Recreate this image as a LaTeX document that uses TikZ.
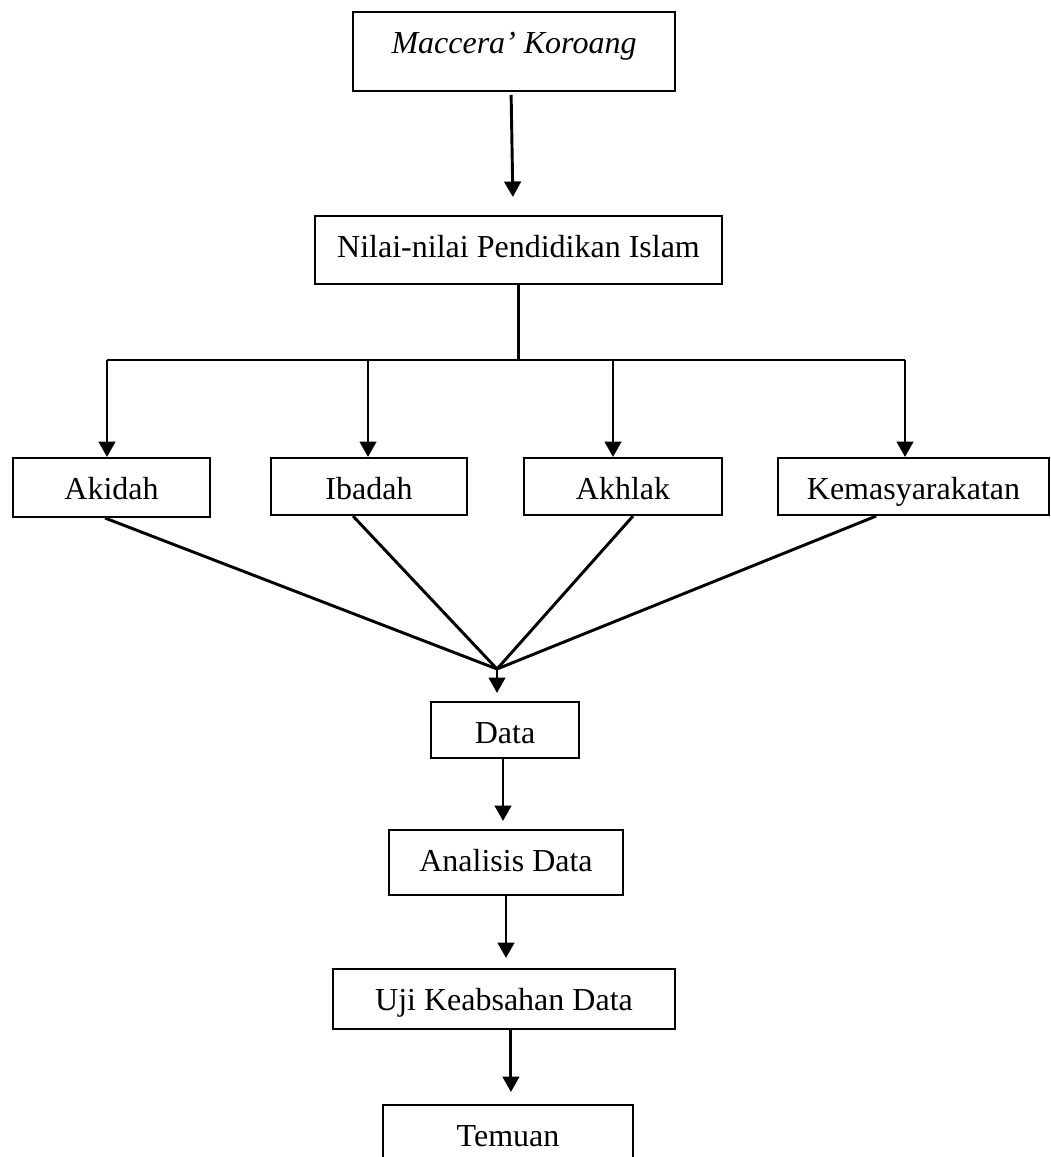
\documentclass[tikz,border=0pt]{standalone}
\usepackage{fontspec}
\setmainfont{Liberation Serif}
\usetikzlibrary{arrows.meta}
\tikzset{
  box/.style={draw, line width=0.75pt, inner sep=0pt, anchor=north, text height=15.4pt, font=\fontsize{12}{14}\selectfont},
  link/.style={line width=1.1pt},
  arr/.style={link, -{Triangle[length=5.8pt,width=6.2pt]}}
}
\begin{document}
\begin{tikzpicture}[x=0.375pt, y=-0.375pt]
			%%%%% START %%%%%
			\path[use as bounding box, clip] (0,0) rectangle (1050,1157);
			
			\node[box, minimum width=120.75pt, text depth=14.3pt] (maccera) at (514, 11) {\textit{Maccera’ Koroang}};
			\node[box, minimum width=152.6pt, text depth=10.1pt] (nilai) at (518.5, 215) {Nilai-nilai Pendidikan Islam};
			
			\node[box, minimum width=73.9pt, text depth=6.75pt] (akidah) at (111.5, 457) {Akidah};
			\node[box, minimum width=73.5pt, text depth=6pt] (ibadah) at (369, 457) {Ibadah};
			\node[box, minimum width=73.9pt, text depth=6pt] (akhlak) at (623, 457) {Akhlak};
			\node[box, minimum width=101.6pt, text depth=6pt] (kemas) at (913.5, 457) {Kemasyarakatan};
			
			\node[box, minimum width=55.5pt, text depth=5.6pt] (data) at (505, 701) {Data};
			\node[box, minimum width=87.75pt, text depth=9pt] (analisis) at (506, 829) {Analisis Data};
			\node[box, minimum width=128.25pt, text depth=7.1pt] (uji) at (504, 968) {Uji Keabsahan Data};
			\node[box, minimum width=93.75pt, text depth=15pt] (temuan) at (508, 1104) {Temuan};
			
			\draw[arr, shorten <=1pt, shorten >=6.75pt] ([xshift=-1.1pt]maccera.south) -- ([xshift=-2pt]nilai.north);
			
			\coordinate (j1) at (107, 360);
			\coordinate (j2) at (368, 360);
			\coordinate (j3) at (613, 360);
			\coordinate (j4) at (905, 360);
			\draw[link] (nilai.south) -- (nilai.south |- j1);
			\draw[link] (j1) -- (j4);
			\draw[arr] (j1) -- (j1 |- akidah.north);
			\draw[arr] (j2) -- (j2 |- ibadah.north);
			\draw[arr] (j3) -- (j3 |- akhlak.north);
			\draw[arr] (j4) -- (j4 |- kemas.north);
			
			\coordinate (meet) at (497, 669);
			\draw[link] ([xshift=-2.4pt]akidah.south) -- (meet);
			\draw[link] ([xshift=-6pt]ibadah.south) -- (meet);
			\draw[link] ([xshift=3.75pt]akhlak.south) -- (meet);
			\draw[link] ([xshift=-14pt]kemas.south) -- (meet);
			\draw[arr, shorten >=3pt] (meet) -- (meet |- data.north);
			
			\draw[arr, shorten >=3pt] ([xshift=-0.75pt]data.south) -- ([xshift=-0.75pt]data.south |- analisis.north);
			\draw[arr, shorten >=3.75pt] (analisis.south) -- (analisis.south |- uji.north);
			\draw[arr, shorten >=4.5pt] ([xshift=2.6pt]uji.south) -- ([xshift=2.6pt]uji.south |- temuan.north);
			
			%%%%% END %%%%%
\end{tikzpicture}
\end{document}
